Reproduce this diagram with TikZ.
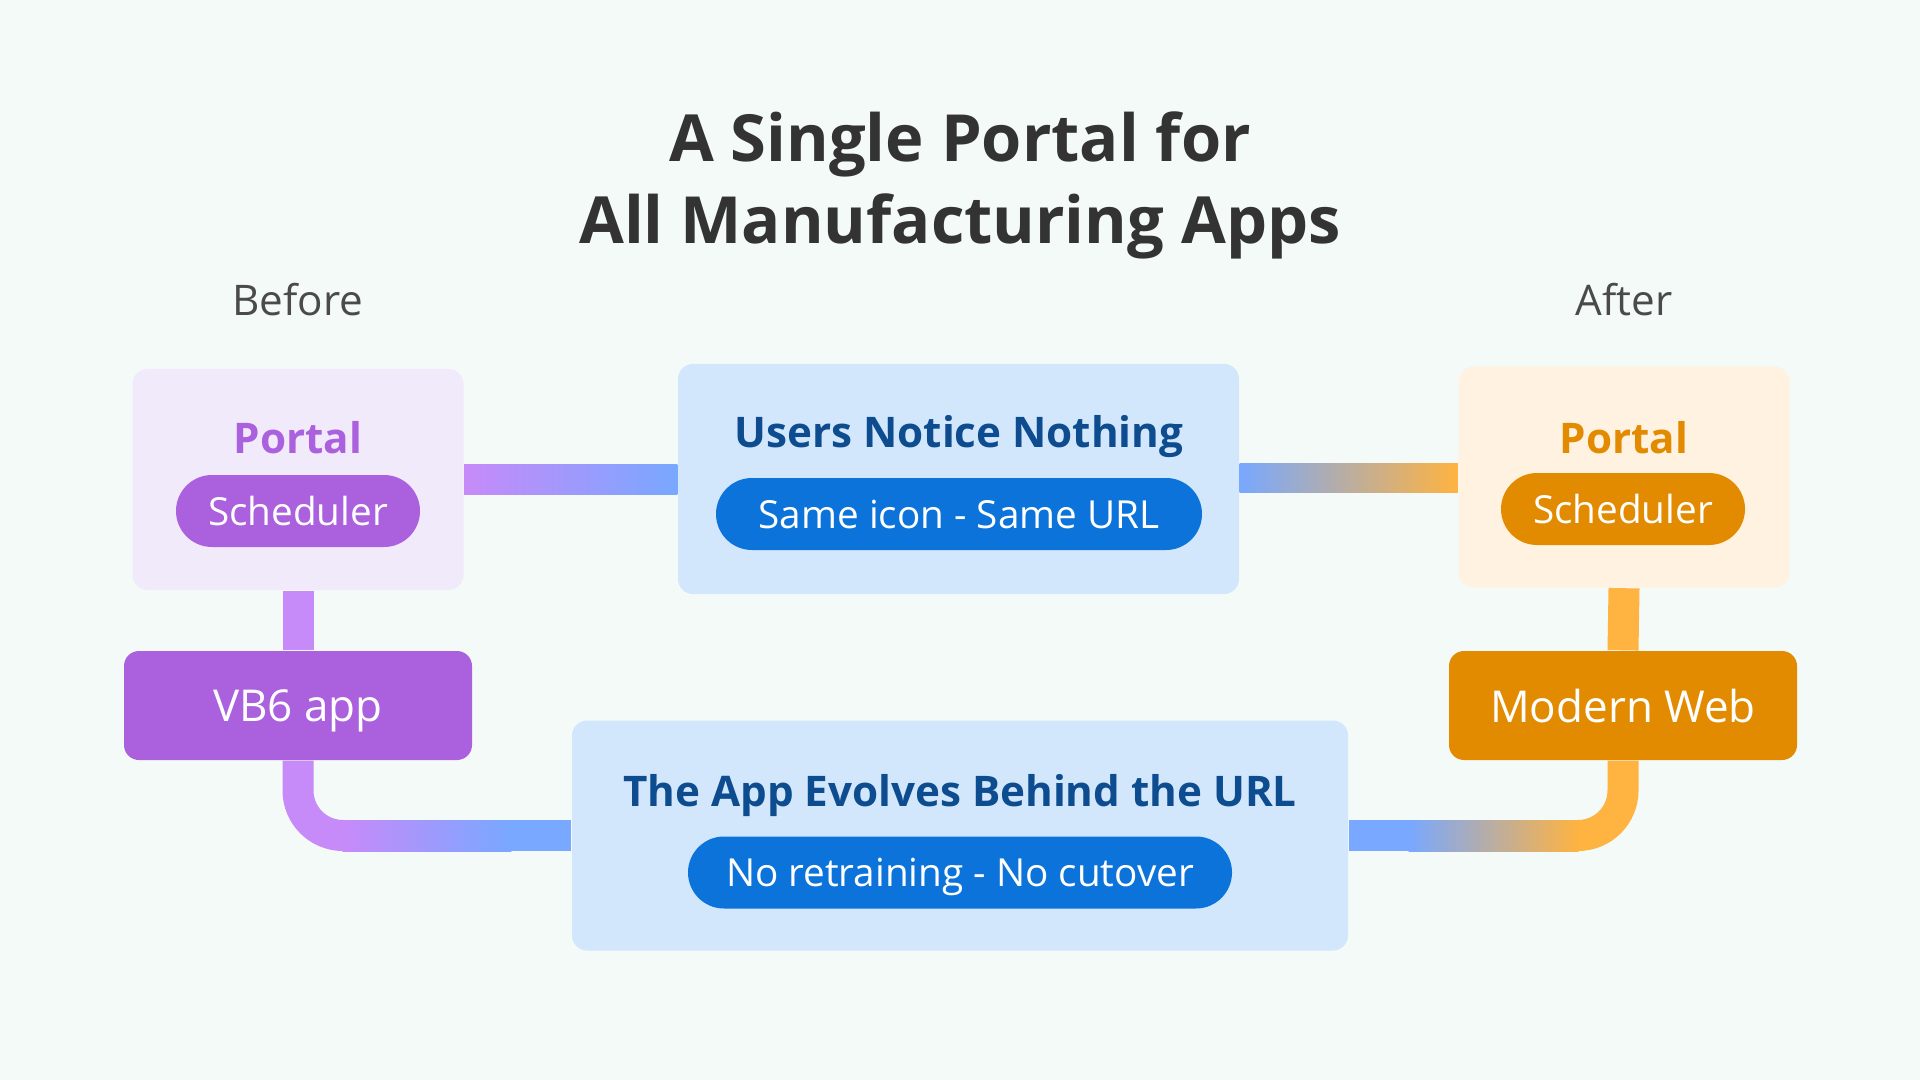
\documentclass[tikz,border=0pt]{standalone}
\usepackage{fontspec}
\setmainfont{Open Sans}
\usetikzlibrary{calc}
\definecolor{bgcol}{HTML}{F4FAF8}
\definecolor{titlecol}{HTML}{333333}
\definecolor{sidecol}{HTML}{4A4A4A}
\definecolor{purpBox}{HTML}{F0EAFB}
\definecolor{purpMain}{HTML}{AB60DE}
\definecolor{purpLine}{HTML}{C78AF9}
\definecolor{orngBox}{HTML}{FFF2E0}
\definecolor{orngMain}{HTML}{E38B00}
\definecolor{orngLine}{HTML}{FFB340}
\definecolor{blueBox}{HTML}{D2E6FC}
\definecolor{blueMain}{HTML}{0B73D9}
\definecolor{blueText}{HTML}{0D4C8F}
\definecolor{blueLine}{HTML}{78A8FF}
\begin{document}
\begin{tikzpicture}[y=-1cm,
    portalbox/.style = {rounded corners=0.15cm, minimum width=3.31cm, minimum height=2.21cm, inner sep=0},
    appbox/.style = {rounded corners=0.15cm, minimum width=3.48cm, minimum height=1.09cm, inner sep=0, text depth=0pt, text=white, font=\fontsize{12.5}{15}\selectfont},
    infobox/.style = {fill=blueBox, rounded corners=0.15cm, minimum height=2.30cm, inner sep=0},
    pill/.style = {rounded corners=0.36cm, minimum height=0.72cm, inner sep=0, text depth=0pt, text=white, font=\fontsize{11}{13}\selectfont},
    head/.style = {inner sep=0, text depth=0pt, font=\bfseries\fontsize{12}{15}\selectfont},
    side/.style = {inner sep=0, text=sidecol, font=\fontsize{12}{14}\selectfont},
    conn/.style = {line width=0.31cm}]
    \fill[bgcol] (0,0) rectangle (19.2,10.8);
    \useasboundingbox (0,0) rectangle (19.2,10.8);

    \node[align=center, text=titlecol, font=\bfseries\fontsize{18.5}{23.3}\selectfont] (title) at (9.60,1.85) {A Single Portal for\\All Manufacturing Apps};
    \node[side] (before) at (2.98,3.00) {Before};
    \node[side] (after) at (16.24,3.00) {After};

    \node[portalbox, fill=purpBox] (portL) at (2.98,4.795) {};
    \node[head, text=purpMain] (portLtxt) at (2.98,4.37) {Portal};
    \node[pill, fill=purpMain, minimum width=2.44cm] (schedL) at (2.98,5.11) {Scheduler};
    \node[appbox, fill=purpMain] (vb6) at (2.98,7.055) {VB6 app};

    \node[portalbox, fill=orngBox] (portR) at (16.24,4.77) {};
    \node[head, text=orngMain] (portRtxt) at (16.24,4.37) {Portal};
    \node[pill, fill=orngMain, minimum width=2.44cm] (schedR) at (16.23,5.09) {Scheduler};
    \node[appbox, fill=orngMain] (modern) at (16.23,7.055) {Modern Web};

    \node[infobox, minimum width=5.61cm] (topbox) at (9.585,4.79) {};
    \node[head, text=blueText] (toptxt) at (9.59,4.31) {Users Notice Nothing};
    \node[pill, fill=blueMain, minimum width=4.86cm] (toppill) at (9.59,5.14) {Same icon - Same URL};

    \node[infobox, minimum width=7.76cm] (botbox) at (9.60,8.355) {};
    \node[head, text=blueText] (bottxt) at (9.60,7.90) {The App Evolves Behind the URL};
    \node[pill, fill=blueMain, minimum width=5.44cm] (botpill) at (9.60,8.725) {No retraining - No cutover};

    \shade[left color=purpLine, right color=blueLine] ($(portL.east)+(0,-0.155)$) rectangle ($(topbox.west)+(0,0.155)$);
    \shade[left color=blueLine, right color=orngLine] ($(topbox.east)+(0,-0.155)$) rectangle ($(portR.west)+(0,0.155)$);

    \draw[conn, purpLine] (portL.south) -- (vb6.north);
    \draw[conn, orngLine] (portR.south) -- (modern.north);

    \draw[conn, purpLine, rounded corners=0.45cm] (vb6.south) |- ($(botbox.west)+(-2.1,0)$);
    \shade[left color=purpLine, right color=blueLine] ($(botbox.west)+(-2.29,-0.155)$) rectangle ($(botbox.west)+(-0.6,0.155)$);
    \fill[blueLine] ($(botbox.west)+(-0.6,-0.155)$) rectangle ($(botbox.west)+(0,0.155)$);

    \draw[conn, orngLine, rounded corners=0.45cm] (modern.south) |- ($(botbox.east)+(2.0,0)$);
    \shade[left color=blueLine, right color=orngLine] ($(botbox.east)+(0.6,-0.155)$) rectangle ($(botbox.east)+(2.30,0.155)$);
    \fill[blueLine] ($(botbox.east)+(0,-0.155)$) rectangle ($(botbox.east)+(0.6,0.155)$);
\end{tikzpicture}
\end{document}
